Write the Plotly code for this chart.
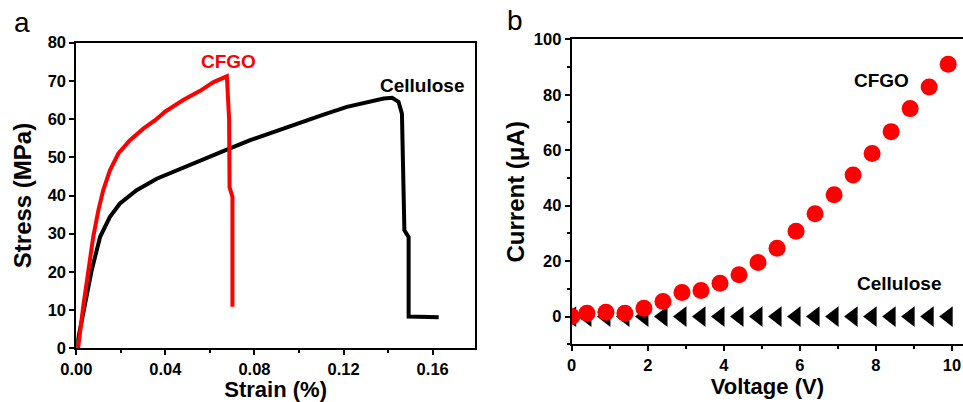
import plotly.graph_objects as go

# Panel a: stress-strain
cfgo_strain = [0.0, 0.0009, 0.0031, 0.0054, 0.0076, 0.0099, 0.0121, 0.0151, 0.0189, 0.0241,
               0.0301, 0.0354, 0.0400, 0.0480, 0.0556, 0.0616, 0.0676, 0.0686, 0.0688, 0.0701, 0.0701]
cfgo_stress = [0.0, 0.4, 10.9, 20.4, 29.2, 36.1, 41.4, 46.6, 51.0, 54.5,
               57.5, 59.7, 62.0, 65.0, 67.4, 69.7, 71.2, 60.0, 42.2, 39.6, 10.9]

cell_strain = [0.0, 0.0039, 0.0069, 0.0107, 0.0151, 0.0196, 0.0271, 0.0361, 0.0451, 0.0571,
               0.0676, 0.0781, 0.0901, 0.1005, 0.1110, 0.1215, 0.1305, 0.1380, 0.1418, 0.1447,
               0.1462, 0.1467, 0.1473, 0.1492, 0.1492, 0.1627]
cell_stress = [0.0, 10.9, 20.4, 29.2, 34.4, 37.9, 41.4, 44.4, 46.6, 49.7,
               52.0, 54.5, 57.0, 59.2, 61.2, 63.2, 64.5, 65.4, 65.6, 64.5,
               61.4, 49.2, 30.9, 29.1, 8.3, 8.1]

# Panel b: I-V
voltage = [0.0, 0.4, 0.9, 1.4, 1.9, 2.4, 2.9, 3.4, 3.9, 4.4, 4.9,
           5.4, 5.9, 6.4, 6.9, 7.4, 7.9, 8.4, 8.9, 9.4, 9.9]
cfgo_current = [0.0, 1.2, 1.6, 1.2, 3.0, 5.4, 8.7, 9.4, 12.0, 15.1, 19.5,
                24.6, 30.8, 37.1, 43.9, 51.1, 58.8, 66.7, 75.0, 82.8, 91.0]
cell_current = [0.0] * 21

FONT = "Arial, Liberation Sans, sans-serif"

fig = go.Figure()

fig.add_trace(go.Scatter(x=cell_strain, y=cell_stress, mode="lines",
                         line=dict(color="black", width=4), xaxis="x", yaxis="y",
                         showlegend=False))
fig.add_trace(go.Scatter(x=cfgo_strain, y=cfgo_stress, mode="lines",
                         line=dict(color="#ff0000", width=4), xaxis="x", yaxis="y",
                         showlegend=False))

fig.add_trace(go.Scatter(x=voltage, y=cell_current, mode="markers",
                         marker=dict(symbol="triangle-left", color="black", size=18),
                         xaxis="x2", yaxis="y2", showlegend=False))
fig.add_trace(go.Scatter(x=voltage, y=cfgo_current, mode="markers",
                         marker=dict(symbol="circle", color="#ff0000", size=17),
                         xaxis="x2", yaxis="y2", showlegend=False))

tickfont = dict(family=FONT, size=16.5, color="black", weight="bold")
xtitlefont = dict(family=FONT, size=22, color="black", weight="bold")
ytitlefont = dict(family=FONT, size=24, color="black", weight="bold")

common = dict(showgrid=False, zeroline=False, showline=True, linecolor="black",
              linewidth=2, mirror=True, ticks="outside", ticklen=5, tickwidth=2,
              tickcolor="black", tickfont=tickfont, automargin=False)

W, H = 963, 402

fig.update_layout(
    width=W, height=H,
    margin=dict(l=0, r=0, t=0, b=0),
    paper_bgcolor="white", plot_bgcolor="white",
    xaxis=dict(domain=[76.3 / W, 475 / W], range=[0, 0.179],
               tickvals=[0, 0.04, 0.08, 0.12, 0.16],
               ticktext=["0.00", "0.04", "0.08", "0.12", "0.16"],
               minor=dict(dtick=0.02, ticks="outside", ticklen=3, tickcolor="black"),
               title=dict(text="Strain (%)", font=xtitlefont, standoff=5),
               anchor="y", **common),
    yaxis=dict(domain=[(H - 348.3) / H, (H - 42.7) / H], range=[0, 80],
               tickvals=[0, 10, 20, 30, 40, 50, 60, 70, 80],
               title=dict(text="Stress (MPa)", font=ytitlefont, standoff=9),
               anchor="x", **common),
    xaxis2=dict(domain=[571.7 / W, 1.0], range=[0, 10.29],
                tickvals=[0, 2, 4, 6, 8, 10],
                minor=dict(dtick=1, ticks="outside", ticklen=3, tickcolor="black"),
                title=dict(text="Voltage (V)", font=xtitlefont, standoff=5),
                anchor="y2", **common),
    yaxis2=dict(domain=[(H - 344.3) / H, (H - 39.3) / H], range=[-10, 100],
                tickvals=[0, 20, 40, 60, 80, 100],
                minor=dict(dtick=10, ticks="outside", ticklen=3, tickcolor="black"),
                title=dict(text="Current (μA)", font=ytitlefont, standoff=2),
                anchor="x2", **{**common, "mirror": False}),
    annotations=[
        dict(text="a", x=21.7 / W, y=1 - 22.7 / H, xref="paper", yref="paper",
             showarrow=False, font=dict(family=FONT, size=28, color="black"),
             xanchor="center", yanchor="middle"),
        dict(text="b", x=515 / W, y=1 - 20.7 / H, xref="paper", yref="paper",
             showarrow=False, font=dict(family=FONT, size=28, color="black"),
             xanchor="center", yanchor="middle"),
        dict(text="CFGO", x=228.5 / W, y=1 - 61.5 / H, xref="paper", yref="paper",
             showarrow=False, font=dict(family=FONT, size=19, color="#ff0000", weight="bold"),
             xanchor="center", yanchor="middle"),
        dict(text="Cellulose", x=421.5 / W, y=1 - 85.5 / H, xref="paper", yref="paper",
             showarrow=False, font=dict(family=FONT, size=19, color="black", weight="bold"),
             xanchor="center", yanchor="middle"),
        dict(text="CFGO", x=881 / W, y=1 - 80.7 / H, xref="paper", yref="paper",
             showarrow=False, font=dict(family=FONT, size=19, color="black", weight="bold"),
             xanchor="center", yanchor="middle"),
        dict(text="Cellulose", x=899 / W, y=1 - 283 / H, xref="paper", yref="paper",
             showarrow=False, font=dict(family=FONT, size=19, color="black", weight="bold"),
             xanchor="center", yanchor="middle"),
    ],
)

fig.write_html("out.html", config={"displayModeBar": False},
               post_script="document.body.style.margin='0';document.body.style.overflow='hidden';")
